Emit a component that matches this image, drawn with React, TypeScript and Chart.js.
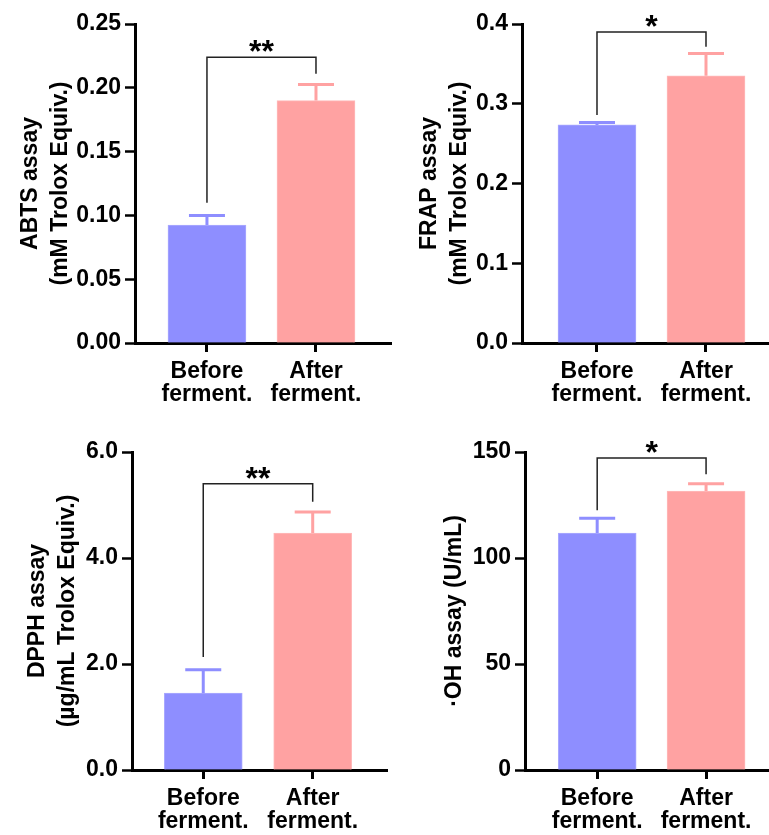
import React, { useEffect, useRef } from 'react';
import { Chart, registerables } from 'chart.js';

Chart.register(...registerables);

const FONT = '"Liberation Sans", Arial, Helvetica, sans-serif';

// ---- data ----
const groupLabels = [['Before', 'ferment.'], ['After', 'ferment.']];
const groupPos = [0, 1];

const abtsMean = [0.0925, 0.19];
const abtsErr = [0.0075, 0.0125];
const abtsBracket = [0.224, 0.11, 0.211]; // top, left leg end, right leg end
const abtsSig = '**';
const abtsTicks = [0, 0.05, 0.1, 0.15, 0.2, 0.25];

const frapMean = [0.2735, 0.335];
const frapErr = [0.003, 0.028];
const frapBracket = [0.39, 0.286, 0.3715];
const frapSig = '*';
const frapTicks = [0, 0.1, 0.2, 0.3, 0.4];

const dpphMean = [1.45, 4.47];
const dpphErr = [0.44, 0.4];
const dpphBracket = [5.4, 2.13, 5.06];
const dpphSig = '**';
const dpphTicks = [0, 2, 4, 6];

const ohMean = [111.8, 131.6];
const ohErr = [7.0, 3.4];
const ohBracket = [147.2, 122.5, 139.5];
const ohSig = '*';
const ohTicks = [0, 50, 100, 150];

// ---- styles ----
const barColors = ['#8E8EFF', '#FFA2A2'];
const barEdges = ['#ABABFF', '#FFBABA'];

const panels = [
  {
    key: 'abts', title: ['ABTS assay', '(mM Trolox Equiv.)'],
    mean: abtsMean, err: abtsErr, bracket: abtsBracket, sig: abtsSig, ticks: abtsTicks, dec: 2,
    left: 0, top: 0, width: 392, height: 417, yW: 135, titlePad: 16, padTop: 24, padRight: 1, xH: 74,
    xMin: -0.66, xMax: 1.688,
  },
  {
    key: 'frap', title: ['FRAP assay', '(mM Trolox Equiv.)'],
    mean: frapMean, err: frapErr, bracket: frapBracket, sig: frapSig, ticks: frapTicks, dec: 1,
    left: 392, top: 0, width: 377, height: 417, yW: 130, titlePad: 23, padTop: 24, padRight: 0, xH: 74,
    xMin: -0.688, xMax: 1.578,
  },
  {
    key: 'dpph', title: ['DPPH assay', '(µg/mL Trolox Equiv.)'],
    mean: dpphMean, err: dpphErr, bracket: dpphBracket, sig: dpphSig, ticks: dpphTicks, dec: 1,
    left: 0, top: 417, width: 388, height: 418, yW: 132, titlePad: 23, padTop: 35, padRight: 0, xH: 65,
    xMin: -0.651, xMax: 1.688,
  },
  {
    key: 'oh', title: '·OH assay (U/mL)',
    mean: ohMean, err: ohErr, bracket: ohBracket, sig: ohSig, ticks: ohTicks, dec: 0,
    left: 392, top: 417, width: 377, height: 418, yW: 133, titlePad: 48, padTop: 35, padRight: 0, xH: 65,
    xMin: -0.663, xMax: 1.578,
  },
];

function Panel({ cfg }: { cfg: any }) {
  const ref = useRef<HTMLCanvasElement>(null);
  useEffect(() => {
    if (!ref.current) return;
    const overlay = {
      id: 'overlay' + cfg.key,
      afterDatasetsDraw(chart: any) {
        const { ctx } = chart;
        const x = chart.scales.x;
        const y = chart.scales.y;
        ctx.save();
        cfg.mean.forEach((m: number, i: number) => {
          const px = x.getPixelForValue(groupPos[i]);
          const yb = y.getPixelForValue(m);
          const yt = y.getPixelForValue(m + cfg.err[i]);
          ctx.strokeStyle = barColors[i];
          ctx.lineWidth = 3;
          ctx.beginPath();
          ctx.moveTo(px, yb);
          ctx.lineTo(px, yt);
          ctx.moveTo(px - 18, yt);
          ctx.lineTo(px + 18, yt);
          ctx.stroke();
        });
        const [bt, bl, br] = cfg.bracket;
        const x0 = x.getPixelForValue(groupPos[0]);
        const x1 = x.getPixelForValue(groupPos[1]);
        const yTop = y.getPixelForValue(bt);
        ctx.strokeStyle = '#222';
        ctx.lineWidth = 1.5;
        ctx.beginPath();
        ctx.moveTo(x0, y.getPixelForValue(bl));
        ctx.lineTo(x0, yTop);
        ctx.lineTo(x1, yTop);
        ctx.lineTo(x1, y.getPixelForValue(br));
        ctx.stroke();
        ctx.fillStyle = '#000';
        ctx.font = `bold 32px ${FONT}`;
        ctx.textAlign = 'center';
        ctx.textBaseline = 'alphabetic';
        ctx.fillText(cfg.sig, (x0 + x1) / 2, yTop + 5);
        ctx.restore();
      },
    };
    const chart = new Chart(ref.current, {
      type: 'bar',
      data: {
        datasets: [
          {
            data: cfg.mean.map((m: number, i: number) => ({ x: groupPos[i], y: m })),
            backgroundColor: barColors,
            borderColor: barEdges,
            borderWidth: 1,
            barThickness: 78,
          },
        ],
      },
      options: {
        responsive: false,
        animation: false,
        events: [],
        layout: { padding: { left: 0, top: cfg.padTop, right: cfg.padRight, bottom: 0 } },
        plugins: { legend: { display: false }, tooltip: { enabled: false } },
        scales: {
          x: {
            type: 'linear',
            min: cfg.xMin,
            max: cfg.xMax,
            offset: false,
            bounds: 'data',
            z: 1,
            afterBuildTicks: (s: any) => {
              s.ticks = groupPos.map((v) => ({ value: v }));
            },
            afterFit: (s: any) => {
              s.height = cfg.xH;
            },
            border: { display: true, color: '#000', width: 3 },
            grid: {
              display: true,
              offset: false,
              drawOnChartArea: false,
              drawTicks: true,
              tickLength: 9,
              tickWidth: 3,
              tickColor: '#000',
            },
            ticks: {
              autoSkip: false,
              maxRotation: 0,
              padding: 8,
              color: '#000',
              font: { family: FONT, size: 23, weight: 'bold', lineHeight: 1.0 },
              callback: (_v: any, i: number) => groupLabels[i],
            },
          },
          y: {
            type: 'linear',
            min: cfg.ticks[0],
            max: cfg.ticks[cfg.ticks.length - 1],
            z: 1,
            afterBuildTicks: (s: any) => {
              s.ticks = cfg.ticks.map((v: number) => ({ value: v }));
            },
            afterFit: (s: any) => {
              s.width = cfg.yW;
            },
            border: { display: true, color: '#000', width: 3 },
            grid: {
              display: true,
              drawOnChartArea: false,
              drawTicks: true,
              tickLength: 10,
              tickWidth: 2.5,
              tickColor: '#000',
            },
            ticks: {
              padding: 4,
              color: '#000',
              font: { family: FONT, size: 23, weight: 'bold' },
              callback: (v: any) => Number(v).toFixed(cfg.dec),
            },
            title: {
              display: true,
              text: cfg.title,
              color: '#000',
              padding: { top: cfg.titlePad, bottom: 0 },
              font: { family: FONT, size: 23, weight: 'bold', lineHeight: 1.3 },
            },
          },
        },
      },
      plugins: [overlay],
    } as any);
    return () => chart.destroy();
  }, []);
  return (
    <canvas
      ref={ref}
      width={cfg.width}
      height={cfg.height}
      style={{ position: 'absolute', left: cfg.left, top: cfg.top, width: cfg.width, height: cfg.height }}
    />
  );
}

export default function App() {
  return (
    <div style={{ position: 'absolute', left: 0, top: 0, width: 769, height: 835, background: '#fff', overflow: 'hidden' }}>
      {panels.map((p) => (
        <Panel key={p.key} cfg={p} />
      ))}
    </div>
  );
}
